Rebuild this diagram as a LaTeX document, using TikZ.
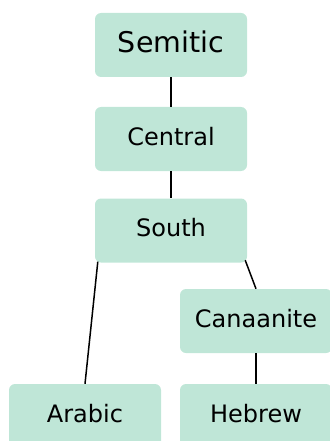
\documentclass[tikz,border=0pt]{standalone}
\usepackage{fontspec}
\setmainfont{DejaVu Sans}
\definecolor{mint}{RGB}{191,230,215}

\begin{document}
\begin{tikzpicture}[x=1pt, y=1pt,
    lang/.style={fill=mint, rounded corners=6pt, minimum width=152pt, minimum height=64pt,
        inner sep=0pt, text height=18.2pt, text depth=5.8pt, font=\fontsize{24}{29}\selectfont},
    big/.style={text height=21.6pt, text depth=6.8pt, font=\fontsize{28.5}{34}\selectfont},
    link/.style={line width=1.5pt}]
    \useasboundingbox (0, 0) rectangle (329, -441);
    \node[lang, big] (sem) at (171, -45) {Semitic};
    \node[lang] (cen) at (171, -139) {Central};
    \node[lang] (sou) at (171, -230.5) {South};
    \node[lang] (can) at (256, -321) {Canaanite};
    \node[lang] (ara) at (85, -416) {Arabic};
    \node[lang] (heb) at (256, -416) {Hebrew};
    \coordinate (sl) at ([xshift=3pt, yshift=1pt] sou.south west);
    \coordinate (sr) at ([xshift=-2pt, yshift=2.5pt] sou.south east);
    \draw [link] (sem) to (cen);
    \draw [link] (cen) to (sou);
    \draw [link] (sl) to (ara.north);
    \draw [link] (sr) to (can.north);
    \draw [link] (can) to (heb);
\end{tikzpicture}
\end{document}
